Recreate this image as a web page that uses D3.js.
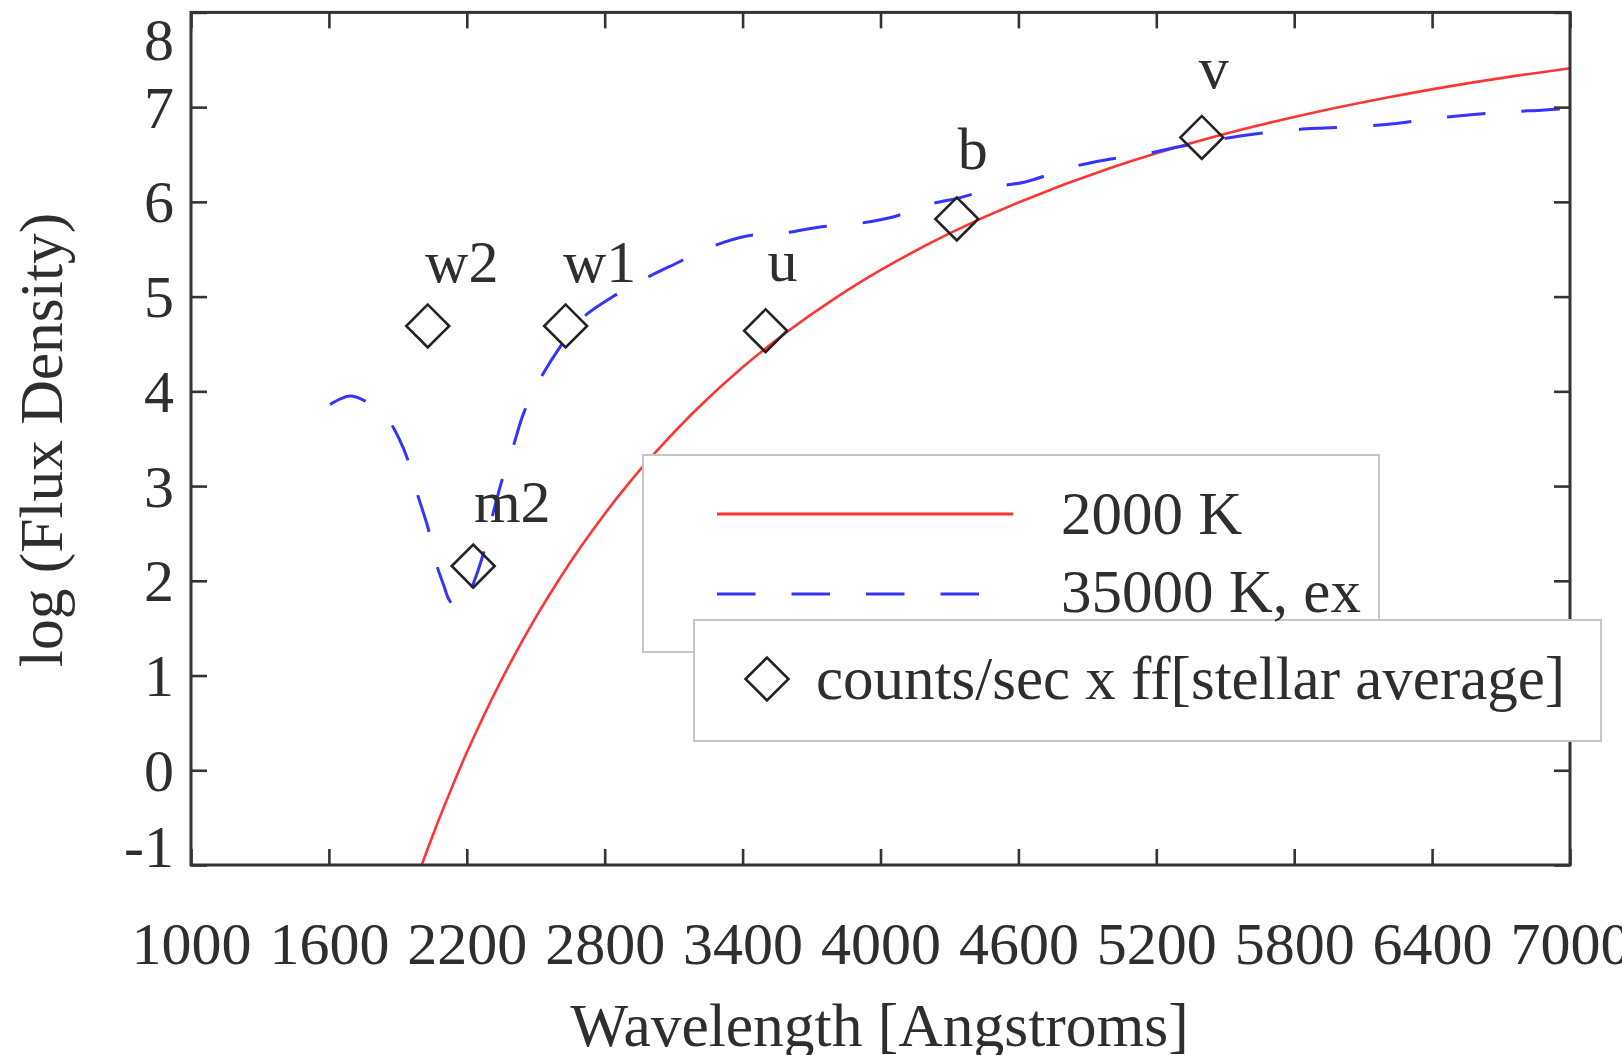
<!DOCTYPE html>
<html>
<head>
<meta charset="utf-8">
<script src="https://cdn.jsdelivr.net/npm/d3@7"></script>
<style>
  html, body { margin: 0; padding: 0; background: #ffffff; }
  svg { display: block; }
  text { font-family: "Liberation Serif", "Times New Roman", serif; fill: #2e2e2e; }
</style>
</head>
<body>
<div id="chart"></div>
<script>
// Blackbody model, 2000 K: wavelength (Angstrom) and log flux density
const redWave = [2000, 2050, 2100, 2150, 2200, 2300, 2400, 2500, 2600, 2700, 2800, 2900, 3000,
                 3200, 3400, 3600, 3800, 4000, 4300, 4600, 5000, 5400, 5800, 6200, 6600, 7000];
const redFlux = [-1.027, -0.699, -0.389, -0.094, 0.187, 0.707, 1.181, 1.613, 2.009, 2.372, 2.706,
                 3.015, 3.300, 3.811, 4.254, 4.640, 4.979, 5.279, 5.667, 5.994, 6.357, 6.652,
                 6.896, 7.099, 7.269, 7.411];

// 35000 K model with extinction applied
const blueWave = [1605, 1650, 1692, 1748, 1800, 1866, 1905, 1940, 1983, 2031, 2066, 2100, 2123,
                  2160, 2195, 2227, 2270, 2310, 2353, 2401, 2449, 2519, 2606, 2706, 2836, 2967,
                  3119, 3258, 3419, 3576, 3737, 3898, 4054, 4207, 4355, 4507, 4629, 4838, 4972,
                  5142, 5294, 5451, 5612, 5795, 5930, 6104, 6252, 6408, 6569, 6730, 6891, 7000];
const blueFlux = [3.86, 3.92, 3.95, 3.91, 3.82, 3.67, 3.50, 3.30, 2.93, 2.56, 2.19, 1.95, 1.80,
                  1.70, 1.78, 1.96, 2.27, 2.67, 3.06, 3.41, 3.78, 4.13, 4.47, 4.78, 5.00, 5.18,
                  5.36, 5.52, 5.64, 5.67, 5.735, 5.77, 5.84, 5.97, 6.05, 6.16, 6.21, 6.37, 6.44,
                  6.50, 6.58, 6.65, 6.71, 6.76, 6.78, 6.80, 6.83, 6.88, 6.92, 6.95, 6.97, 6.99];

// Filter photometry: counts/sec x ff [stellar average]
const bandNames = ["w2", "m2", "w1", "u", "b", "v"];
const bandWave  = [2030, 2228, 2630, 3500, 4332, 5398];
const bandFlux  = [4.69, 2.155, 4.69, 4.64, 5.82, 6.68];

// Axis ticks and text
const xTicks = [1000, 1600, 2200, 2800, 3400, 4000, 4600, 5200, 5800, 6400, 7000];
const yTicks = [-1, 0, 1, 2, 3, 4, 5, 6, 7, 8];
const xTitle = "Wavelength [Angstroms]";
const yTitle = "log (Flux Density)";
const legendLabels = ["2000 K", "35000 K, ex", "counts/sec x ff[stellar average]"];

// ---- layout ----
const W = 1622, H = 1055;
const plot = { left: 191, right: 1570, top: 12.4, bottom: 865 };
const labelShift = [[34, -44], [39, -44], [34, -44], [17, -50], [16, -50], [12, -49]];
const axisColor = "#333333";
const redColor = "#ff3434";
const blueColor = "#3434ff";
const fontSize = 60;

const svg = d3.select("#chart").append("svg")
  .attr("width", W).attr("height", H)
  .attr("viewBox", `0 0 ${W} ${H}`);

svg.append("rect").attr("width", W).attr("height", H).attr("fill", "#ffffff");

const x = d3.scaleLinear().domain([1000, 7000]).range([plot.left, plot.right]);
const y = d3.scaleLinear().domain([-1, 8]).range([plot.bottom, plot.top]);

svg.append("clipPath").attr("id", "plot-clip")
  .append("rect")
  .attr("x", plot.left).attr("y", plot.top)
  .attr("width", plot.right - plot.left).attr("height", plot.bottom - plot.top);

// ---- curves ----
const redData = redWave.map((w, i) => [w, redFlux[i]]);
const blueData = blueWave.map((w, i) => [w, blueFlux[i]]);

const redLine = d3.line().x(d => x(d[0])).y(d => y(d[1])).curve(d3.curveCatmullRom.alpha(0.5));
const blueLine = d3.line().x(d => x(d[0])).y(d => y(d[1])).curve(d3.curveCatmullRom.alpha(0.5));

const curves = svg.append("g").attr("clip-path", "url(#plot-clip)");
curves.append("path").datum(redData)
  .attr("d", redLine)
  .attr("fill", "none").attr("stroke", redColor).attr("stroke-width", 2.6);
curves.append("path").datum(blueData)
  .attr("d", blueLine)
  .attr("fill", "none").attr("stroke", blueColor).attr("stroke-width", 3)
  .attr("stroke-dasharray", "38.5,36");

// ---- diamonds and band labels ----
const diamond = d3.symbol().type(d3.symbolSquare).size(920);
const bands = bandNames.map((n, i) => ({ name: n, w: bandWave[i], f: bandFlux[i], shift: labelShift[i] }));

svg.append("g").selectAll("path").data(bands).join("path")
  .attr("d", diamond)
  .attr("transform", d => `translate(${x(d.w)},${y(d.f)}) rotate(45)`)
  .attr("fill", "none").attr("stroke", "#222222").attr("stroke-width", 2.6);

svg.append("g").selectAll("text").data(bands).join("text")
  .attr("x", d => x(d.w) + d.shift[0])
  .attr("y", d => y(d.f) + d.shift[1])
  .attr("text-anchor", "middle")
  .attr("font-size", fontSize)
  .text(d => d.name);

// ---- axes (ticks pointing inward on all four sides) ----
const tickLen = 16;
const plainNumber = d => String(d);
function styleAxis(g) {
  g.select(".domain").remove();
  g.selectAll(".tick line").attr("stroke", axisColor).attr("stroke-width", 2.6);
  g.selectAll(".tick text").attr("font-size", fontSize)
    .attr("font-family", "'Liberation Serif', 'Times New Roman', serif")
    .attr("fill", "#2e2e2e");
}

svg.append("g").attr("transform", `translate(0,${plot.bottom})`)
  .call(d3.axisBottom(x).tickValues(xTicks).tickSizeInner(-tickLen).tickSizeOuter(0)
    .tickPadding(0).tickFormat(plainNumber))
  .call(styleAxis)
  .call(g => g.selectAll(".tick text").attr("y", 99).attr("dy", null));

svg.append("g").attr("transform", `translate(0,${plot.top})`)
  .call(d3.axisTop(x).tickValues(xTicks).tickSizeInner(-tickLen).tickSizeOuter(0).tickFormat(""))
  .call(styleAxis);

svg.append("g").attr("transform", `translate(${plot.left},0)`)
  .call(d3.axisLeft(y).tickValues(yTicks).tickSizeInner(-tickLen).tickSizeOuter(0)
    .tickPadding(17).tickFormat(plainNumber))
  .call(styleAxis)
  .call(g => g.selectAll(".tick text")
    .attr("dy", null)
    .attr("y", d => d === 8 ? 47 : (d === -1 ? 1 : 20)));

svg.append("g").attr("transform", `translate(${plot.right},0)`)
  .call(d3.axisRight(y).tickValues(yTicks).tickSizeInner(-tickLen).tickSizeOuter(0).tickFormat(""))
  .call(styleAxis);

// plot frame
svg.append("rect")
  .attr("x", plot.left).attr("y", plot.top)
  .attr("width", plot.right - plot.left).attr("height", plot.bottom - plot.top)
  .attr("fill", "none").attr("stroke", axisColor).attr("stroke-width", 3);

// ---- axis titles ----
svg.append("text")
  .attr("x", (plot.left + plot.right) / 2 - 1).attr("y", 1046)
  .attr("text-anchor", "middle").attr("font-size", 61.5)
  .text(xTitle);

svg.append("text")
  .attr("transform", "translate(62,440) rotate(-90)")
  .attr("text-anchor", "middle").attr("font-size", 61.5)
  .text(yTitle);

// ---- legend ----
const legend = svg.append("g");
legend.append("rect")
  .attr("x", 643).attr("y", 455).attr("width", 736).attr("height", 197)
  .attr("fill", "#ffffff").attr("stroke", "#c6c6c6").attr("stroke-width", 2);
legend.append("rect")
  .attr("x", 694).attr("y", 620).attr("width", 907).attr("height", 121)
  .attr("fill", "#ffffff").attr("stroke", "#c6c6c6").attr("stroke-width", 2);

legend.append("line")
  .attr("x1", 717).attr("x2", 1013).attr("y1", 514).attr("y2", 514)
  .attr("stroke", redColor).attr("stroke-width", 2.8);
legend.append("line")
  .attr("x1", 717).attr("x2", 979).attr("y1", 594).attr("y2", 594)
  .attr("stroke", blueColor).attr("stroke-width", 3.2)
  .attr("stroke-dasharray", "38.5,36");
legend.append("path")
  .attr("d", diamond)
  .attr("transform", "translate(767,679) rotate(45)")
  .attr("fill", "none").attr("stroke", "#222222").attr("stroke-width", 2.6);

legend.append("text").attr("x", 1061).attr("y", 534).attr("font-size", 61).text(legendLabels[0]);
legend.append("text").attr("x", 1061).attr("y", 612).attr("font-size", 61).text(legendLabels[1]);
legend.append("text").attr("x", 816).attr("y", 699).attr("font-size", 61).text(legendLabels[2]);
</script>
</body>
</html>
